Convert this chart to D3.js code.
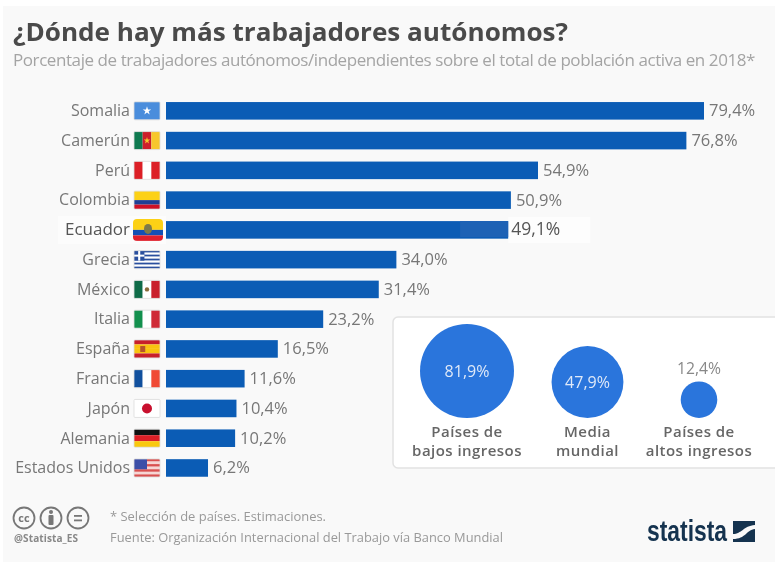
<!DOCTYPE html>
<html>
<head>
<meta charset="utf-8">
<script src="https://cdn.jsdelivr.net/npm/d3@7"></script>
<style>
  html, body { margin: 0; padding: 0; background: #fff; }
  svg { display: block; font-family: "Open Sans", sans-serif; filter: blur(0.45px); }
</style>
</head>
<body>
<svg id="chart" width="775" height="570"></svg>
<script>
// data
var countries = ["Somalia", "Camerún", "Perú", "Colombia", "Ecuador", "Grecia", "México", "Italia", "España", "Francia", "Japón", "Alemania", "Estados Unidos"];
var shares = [79.4, 76.8, 54.9, 50.9, 49.1, 34.0, 31.4, 23.2, 16.5, 11.6, 10.4, 10.2, 6.2];
// what the bars measure in the picture: the Ecuador bar runs longer than its 49,1% label
var barShares = [79.4, 76.8, 54.9, 50.9, 50.5, 34.0, 31.4, 23.2, 16.5, 11.6, 10.4, 10.2, 6.2];
var groupLines = [["Países de", "bajos ingresos"], ["Media", "mundial"], ["Países de", "altos ingresos"]];
var groupShares = [81.9, 47.9, 12.4];

var svg = d3.select("#chart");
var fmt = function (v) { return v.toFixed(1).replace(".", ",") + "%"; };

// background
svg.append("rect").attr("x", 3).attr("y", 6).attr("width", 772).attr("height", 556).attr("fill", "#f9f9f9");

// titles
svg.append("text").attr("x", 13).attr("y", 41)
  .attr("font-size", 25).attr("font-weight", 700).attr("fill", "#4a4a4a")
  .attr("textLength", 555).attr("lengthAdjust", "spacingAndGlyphs")
  .text("¿Dónde hay más trabajadores autónomos?");
var subtitle = svg.append("text").attr("x", 13).attr("y", 66)
  .attr("font-size", 17).attr("fill", "#a4a4a4")
  .text("Porcentaje de trabajadores autónomos/independientes sobre el total de población activa en 2018*");
// the subtitle is set tight in the original, squeeze it to its width there
var subLen = subtitle.node().getComputedTextLength();
subtitle.style("letter-spacing", ((742 - subLen) / subtitle.text().length) + "px");

// scales
var x = d3.scaleLinear().domain([0, 79.4]).range([166, 704]);
var y = d3.scaleBand().domain(countries).range([96.1, 482.7]).paddingInner(0.41).paddingOuter(0.2);
var cy = function (d) { return y(d) + y.bandwidth() / 2; };

// stripes for the flags, top to bottom or left to right
function stripes(g, colors, vertical, w, h) {
  var n = colors.length;
  colors.forEach(function (c, i) {
    g.append("rect")
      .attr("x", vertical ? i * w / n : 0).attr("y", vertical ? 0 : i * h / n)
      .attr("width", vertical ? w / n : w).attr("height", vertical ? h : h / n)
      .attr("fill", c);
  });
}

function star(g, px, py, r, color) {
  g.append("path").attr("d", d3.symbol(d3.symbolStar, r * r * 2)())
    .attr("transform", "translate(" + px + "," + py + ")").attr("fill", color);
}

var flagDrawers = {
  "Somalia": function (g, w, h) { stripes(g, ["#4a8ddc"], false, w, h); star(g, w / 2, h / 2, 3.4, "#fff"); },
  "Camerún": function (g, w, h) { stripes(g, ["#0f7a50", "#cc1f2b", "#f7c72c"], true, w, h); star(g, w / 2, h / 2, 2.6, "#f7c72c"); },
  "Perú": function (g, w, h) { stripes(g, ["#dc1f26", "#ffffff", "#dc1f26"], true, w, h); },
  "Colombia": function (g, w, h) {
    g.append("rect").attr("width", w).attr("height", h / 2).attr("fill", "#fcd116");
    g.append("rect").attr("y", h / 2).attr("width", w).attr("height", h / 4).attr("fill", "#1f3f94");
    g.append("rect").attr("y", h * 3 / 4).attr("width", w).attr("height", h / 4).attr("fill", "#ce1126");
  },
  "Ecuador": function (g, w, h) {
    g.append("rect").attr("width", w).attr("height", h / 2).attr("fill", "#fcd116");
    g.append("rect").attr("y", h / 2).attr("width", w).attr("height", h / 4).attr("fill", "#1450b4");
    g.append("rect").attr("y", h * 3 / 4).attr("width", w).attr("height", h / 4).attr("fill", "#e0202c");
    g.append("ellipse").attr("cx", w / 2).attr("cy", h / 2 - 1).attr("rx", 4).attr("ry", 5).attr("fill", "#7c7a4a");
  },
  "Grecia": function (g, w, h) {
    stripes(g, ["#2a4f9e", "#fff", "#2a4f9e", "#fff", "#2a4f9e", "#fff", "#2a4f9e", "#fff", "#2a4f9e"], false, w, h);
    g.append("rect").attr("width", w * 0.4).attr("height", h * 5 / 9).attr("fill", "#2a4f9e");
    g.append("rect").attr("x", w * 0.16).attr("width", w * 0.08).attr("height", h * 5 / 9).attr("fill", "#fff");
    g.append("rect").attr("y", h * 2 / 9).attr("width", w * 0.4).attr("height", h / 9).attr("fill", "#fff");
  },
  "México": function (g, w, h) {
    stripes(g, ["#0f6b48", "#ffffff", "#c9202c"], true, w, h);
    g.append("circle").attr("cx", w / 2).attr("cy", h / 2).attr("r", 2.2).attr("fill", "#8a6a3a");
  },
  "Italia": function (g, w, h) { stripes(g, ["#13904e", "#ffffff", "#cf2b37"], true, w, h); },
  "España": function (g, w, h) {
    stripes(g, ["#c8202a", "#f9c30f", "#f9c30f", "#c8202a"], false, w, h);
    g.append("rect").attr("x", w * 0.24).attr("y", h * 0.34).attr("width", 5).attr("height", 6).attr("fill", "#b5542a");
  },
  "Francia": function (g, w, h) { stripes(g, ["#11509e", "#ffffff", "#f04a35"], true, w, h); },
  "Japón": function (g, w, h) {
    stripes(g, ["#ffffff"], false, w, h);
    g.append("circle").attr("cx", w / 2).attr("cy", h / 2).attr("r", 5).attr("fill", "#c8102e");
  },
  "Alemania": function (g, w, h) { stripes(g, ["#111", "#dc1f26", "#f9c80e"], false, w, h); },
  "Estados Unidos": function (g, w, h) {
    stripes(g, ["#d9504f", "#f6d6d4", "#d9504f", "#f6d6d4", "#d9504f", "#f6d6d4", "#d9504f"], false, w, h);
    g.append("rect").attr("width", w * 0.5).attr("height", h * 4 / 7).attr("fill", "#3c4fa8");
  }
};

// white patch left under the pasted Ecuador row
svg.append("rect").attr("x", 58).attr("y", cy("Ecuador") - 14).attr("width", 108).attr("height", 28).attr("fill", "#fcfcfc");
svg.append("rect").attr("x", x(50.5)).attr("y", cy("Ecuador") - 13).attr("width", 82).attr("height", 26).attr("fill", "#fdfdfd");

// bars
svg.selectAll("rect.bar").data(countries).enter().append("rect")
  .attr("class", "bar")
  .attr("x", x(0))
  .attr("y", function (d) { return y(d); })
  .attr("width", function (d, i) { return x(barShares[i]) - x(0); })
  .attr("height", y.bandwidth())
  .attr("fill", "#0b5cb5");

// lighter retouched end of the Ecuador bar
svg.append("rect").attr("x", x(43.4)).attr("y", y("Ecuador")).attr("width", x(50.5) - x(43.4)).attr("height", y.bandwidth() - 1.5).attr("fill", "#1e62b5");

// country labels
svg.selectAll("text.country").data(countries).enter().append("text")
  .attr("class", "country")
  .attr("x", 130)
  .attr("y", function (d) { return cy(d) + 5.3; })
  .attr("text-anchor", "end")
  .attr("font-size", function (d) { return d == "Ecuador" ? 17 : 16; })
  .attr("fill", function (d) { return d == "Ecuador" ? "#555" : "#777"; })
  .text(function (d) { return d; });

// flags
countries.forEach(function (d) {
  var big = d == "Ecuador";
  var w = big ? 30 : 26, h = big ? 22 : 18;
  var clipId = "clip" + countries.indexOf(d);
  svg.append("clipPath").attr("id", clipId).append("rect").attr("width", w).attr("height", h).attr("rx", big ? 4 : 1);
  var g = svg.append("g")
    .attr("transform", "translate(" + (big ? 133 : 134) + "," + (cy(d) - h / 2) + ")")
    .attr("clip-path", "url(#" + clipId + ")");
  flagDrawers[d](g, w, h);
  if (!big) {
    svg.append("rect")
      .attr("x", 134).attr("y", cy(d) - h / 2).attr("width", w).attr("height", h).attr("rx", 1)
      .attr("fill", "none").attr("stroke", "#dcdcdc").attr("stroke-width", 0.8);
  }
});

// value labels
svg.selectAll("text.value").data(countries).enter().append("text")
  .attr("class", "value")
  .attr("x", function (d, i) { return x(barShares[i]) + (d == "Ecuador" ? 3 : 5); })
  .attr("y", function (d) { return cy(d) + 5.5; })
  .attr("font-size", function (d) { return d == "Ecuador" ? 17.5 : 16.5; })
  .attr("fill", function (d) { return d == "Ecuador" ? "#555" : "#777"; })
  .text(function (d, i) { return fmt(shares[i]); });

// income panel
svg.append("rect").attr("x", 393).attr("y", 317).attr("width", 400).attr("height", 151).attr("rx", 5)
  .attr("fill", "#fff").attr("stroke", "#e2e2e2").attr("stroke-width", 1.5);

var r = d3.scaleSqrt().domain([0, 81.9]).range([0, 47]);
var px = d3.scalePoint().domain(d3.range(3)).range([467, 699]);
var pos = [px(0), 587.5, px(2)];
var baseY = 418;

groupShares.forEach(function (v, i) {
  svg.append("circle").attr("cx", pos[i]).attr("cy", baseY - r(v)).attr("r", r(v)).attr("fill", "#2a75dc");
  var inside = r(v) > 25;
  svg.append("text")
    .attr("x", pos[i])
    .attr("y", inside ? baseY - r(v) + 5.5 : baseY - 2 * r(v) - 7)
    .attr("text-anchor", "middle").attr("font-size", inside ? 16 : 15.7)
    .attr("fill", inside ? "#dfe9f8" : "#888")
    .text(fmt(v));
  groupLines[i].forEach(function (line, j) {
    svg.append("text")
      .attr("x", pos[i]).attr("y", 437 + j * 19.2)
      .attr("text-anchor", "middle").attr("font-size", 15).attr("font-weight", 600)
      .style("letter-spacing", "0.45px")
      .attr("fill", "#666").text(line);
  });
});

// cc icons
var ccX = [24, 51, 78];
ccX.forEach(function (cx) {
  svg.append("circle").attr("cx", cx).attr("cy", 518).attr("r", 10.5)
    .attr("fill", "none").attr("stroke", "#777").attr("stroke-width", 1.8);
});
svg.append("text").attr("x", 24).attr("y", 522).attr("text-anchor", "middle")
  .attr("font-size", 11).attr("font-weight", 700).attr("fill", "#777").text("cc");
svg.append("circle").attr("cx", 51).attr("cy", 512).attr("r", 2).attr("fill", "#777");
svg.append("rect").attr("x", 48.5).attr("y", 515).attr("width", 5).attr("height", 10).attr("rx", 1).attr("fill", "#777");
svg.append("rect").attr("x", 74).attr("y", 515).attr("width", 8).attr("height", 1.8).attr("fill", "#777");
svg.append("rect").attr("x", 74).attr("y", 519.5).attr("width", 8).attr("height", 1.8).attr("fill", "#777");
svg.append("text").attr("x", 14).attr("y", 542).attr("font-size", 10).attr("font-weight", 700)
  .attr("fill", "#888").attr("textLength", 64).text("@Statista_ES");

// notes
svg.append("text").attr("x", 110).attr("y", 521).attr("font-size", 13).attr("fill", "#999")
  .attr("textLength", 216).attr("lengthAdjust", "spacingAndGlyphs")
  .text("* Selección de países. Estimaciones.");
svg.append("text").attr("x", 110).attr("y", 542).attr("font-size", 13.5).attr("fill", "#999")
  .attr("textLength", 393).attr("lengthAdjust", "spacingAndGlyphs")
  .text("Fuente: Organización Internacional del Trabajo vía Banco Mundial");

// logo
svg.append("text").attr("x", 647).attr("y", 541)
  .attr("font-family", "'Liberation Sans Narrow', sans-serif")
  .attr("font-size", 30).attr("font-weight", 700).attr("fill", "#15334f")
  .attr("textLength", 80).attr("lengthAdjust", "spacingAndGlyphs")
  .text("statista");
svg.append("rect").attr("x", 733).attr("y", 521).attr("width", 22).attr("height", 21).attr("fill", "#15334f");
svg.append("path").attr("d", "M733 534 C742 534 743 526 755 525 L755 529 C746 530 746 539 733 539 Z").attr("fill", "#f9f9f9");
</script>
</body>
</html>
